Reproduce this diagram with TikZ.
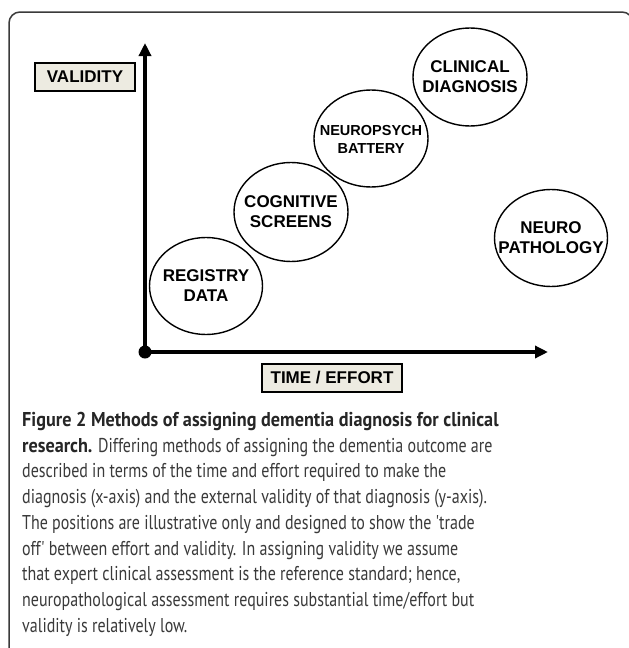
\documentclass[tikz,border=0pt]{standalone}
\usepackage{fontspec}
\setmainfont{Liberation Sans}
\newfontfamily\capfont[FakeStretch=0.80]{PT Sans}
\newfontfamily\capbold[FakeStretch=0.91]{PT Sans}
\usetikzlibrary{arrows.meta}

\definecolor{boxfill}{HTML}{EDEBE1}
\definecolor{captext}{HTML}{3A3A3A}

\begin{document}
\begin{tikzpicture}[x=1pt, y=-1pt,
    method/.style={align=center, inner sep=0pt,
      font=\bfseries\fontsize{17}{20}\selectfont},
    ring/.style={line width=1.4pt},
    axislabel/.style={draw, line width=1.8pt, fill=boxfill, inner sep=0pt,
      minimum height=28pt, font=\bfseries\fontsize{17}{20}\selectfont},
    axis/.style={line width=4.6pt, -{Triangle[length=13pt, width=12pt]}}]
      \clip (0,0) rectangle (629,648);
      \fill[white] (0,0) rectangle (629,648);

      % outer frame
      \draw[line width=1.5pt, captext, rounded corners=11pt]
        (9,660) -- (9,12) -- (633,12) -- (633,660);

      % axes
      \coordinate (org) at (145,352);
      \coordinate (ytip) at (145,43);
      \coordinate (xtip) at (548,352);
      \draw[axis] (org) -- (ytip);
      \draw[axis] (org) -- (xtip);
      \fill (org) circle [radius=6.5pt];

      \node[axislabel, minimum width=100pt] (validity) at (85,77) {VALIDITY};
      \node[axislabel, minimum width=140pt] (effort) at (332,378) {TIME / EFFORT};

      % methods
      \node[method] (registry) at (206,286) {REGISTRY\\DATA};
      \node[method] (screens) at (291,212) {COGNITIVE\\SCREENS};
      \node[method, font=\bfseries\fontsize{14.5}{18}\selectfont]
        (battery) at (371,139) {NEUROPSYCH\\BATTERY};
      \node[method] (clinical) at (470,77) {CLINICAL\\DIAGNOSIS};
      \node[method] (pathology) at (551,238) {NEURO\\PATHOLOGY};

      \draw[ring] (registry) ellipse [x radius=56.5pt, y radius=48.5pt];
      \draw[ring] (screens) ellipse [x radius=57pt, y radius=49.5pt];
      \draw[ring] (battery.center) ++(0,-0.5) ellipse [x radius=57pt, y radius=48.5pt];
      \draw[ring] (clinical) ellipse [x radius=57pt, y radius=49pt];
      \draw[ring] (pathology) ellipse [x radius=56.5pt, y radius=48.5pt];

      % caption
      \node[anchor=north west, inner sep=0pt, align=left, text=captext,
        font=\capfont\fontsize{20}{25.75}\selectfont] (caption) at (22,412)
        {{\capbold\bfseries\color{black!85}Figure 2 Methods of assigning dementia diagnosis for clinical}\\
         {\capbold\bfseries\color{black!85}research.} Differing methods of assigning the dementia outcome are\\
         described in terms of the time and effort required to make the\\
         diagnosis (x-axis) and the external validity of that diagnosis (y-axis).\\
         The positions are illustrative only and designed to show the 'trade\\
         off' between effort and validity. In assigning validity we assume\\
         that expert clinical assessment is the reference standard; hence,\\
         neuropathological assessment requires substantial time/effort but\\
         validity is relatively low.};
    \end{tikzpicture}
\end{document}
